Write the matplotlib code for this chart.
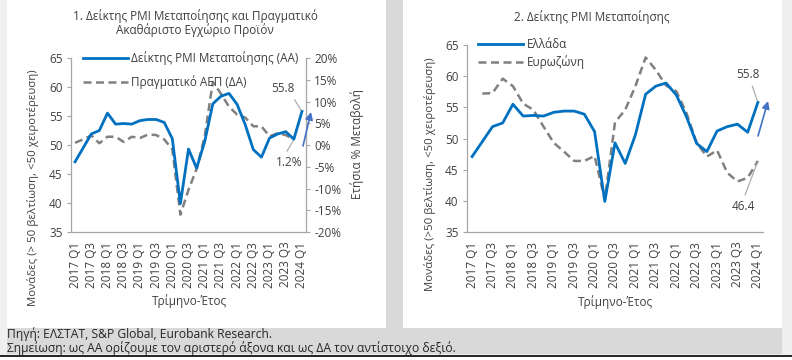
import matplotlib
matplotlib.use("Agg")
import matplotlib.pyplot as plt
import numpy as np
from matplotlib.patches import Rectangle
from matplotlib.lines import Line2D
from matplotlib.ticker import FuncFormatter, MultipleLocator

plt.rcParams['font.family'] = ['Open Sans', 'DejaVu Sans']
plt.rcParams['axes.unicode_minus'] = False

# ---------------- data ----------------
quarters = [f"{y} Q{q}" for y in range(2017, 2025) for q in range(1, 5)][:29]
tick_labels = quarters[::2]

pmi_greece = [47.1, 49.5, 51.9, 52.5, 55.5, 53.6, 53.7, 53.6, 54.2, 54.4, 54.4, 53.9,
              51.1, 39.9, 49.3, 46.0, 50.6, 57.1, 58.4, 58.9, 57.0, 53.5, 49.2, 47.9,
              51.2, 51.9, 52.3, 51.0, 55.8]
pmi_eurozone = [np.nan, 57.2, 57.3, 59.6, 58.4, 55.6, 54.6, 51.9, 49.3, 47.9, 46.4, 46.4,
                47.2, 40.2, 52.6, 54.6, 58.4, 63.0, 61.0, 58.5, 57.6, 54.1, 49.3, 47.1,
                48.1, 44.5, 43.1, 43.7, 46.4]
gdp_growth = [0.5, 1.3, 2.2, 0.4, 1.9, 1.9, 0.7, 1.9, 1.6, 2.4, 2.3, 1.3,
              -1.0, -16.0, -10.3, -5.5, 2.0, 14.5, 11.8, 8.8, 7.0, 6.3, 4.3, 4.3,
              2.0, 2.7, 2.3, 1.2, np.nan]

W, H = 792, 360
def fx(px): return px / W
def fy(py): return 1 - py / H

BLUE = '#0070C0'
GRAY = '#808080'
ARROW = '#4472C4'
TXT = '#404040'
SPINE = '#a6a6a6'
FS = 8.5
FSL = 8.2

fig = plt.figure(figsize=(W / 100, H / 100), dpi=100, facecolor='#efefef')

# background panels
def rect(x0, y0, x1, y1, color):
    fig.patches.append(Rectangle((fx(x0), fy(y1)), fx(x1) - fx(x0), fy(y0) - fy(y1),
                                 transform=fig.transFigure, facecolor=color,
                                 edgecolor='none', zorder=-10))
rect(7, 0, 386, 328, 'white')
rect(386, 0, 403, 328, '#d9d9d9')
rect(403, 0, 782, 328, 'white')
rect(7, 328, 782, 354, '#d9d9d9')
rect(0, 356, 792, 360, 'white')
fig.lines.append(Line2D([0, 1], [fy(355.5), fy(355.5)], transform=fig.transFigure,
                        color='black', lw=1.2))

x = np.arange(len(quarters))

def style_axes(ax):
    for s in ['top', 'right']:
        ax.spines[s].set_visible(False)
    for s in ['left', 'bottom']:
        ax.spines[s].set_color(SPINE)
        ax.spines[s].set_linewidth(0.9)
    ax.set_xlim(-0.5, len(quarters) - 0.5)
    ax.set_ylim(35, 65)
    ax.yaxis.set_major_locator(MultipleLocator(5))
    ax.set_xticks(x[::2])
    ax.set_xticklabels(tick_labels, rotation=90, fontsize=FS, color=TXT)
    ax.tick_params(axis='x', length=0, pad=7)
    ax.tick_params(axis='y', length=3, color=SPINE, labelsize=FS, labelcolor=TXT, pad=3)
    ax.set_facecolor('none')

# ---------------- left chart ----------------
ax1 = fig.add_axes([fx(71), fy(232), fx(306) - fx(71), fy(58) - fy(232)])
style_axes(ax1)
l1, = ax1.plot(x, pmi_greece, color=BLUE, lw=2.0, solid_joinstyle='round', zorder=3)
ax1b = ax1.twinx()
ax1b.set_ylim(-20, 20)
ax1b.yaxis.set_major_locator(MultipleLocator(5))
ax1b.yaxis.set_major_formatter(FuncFormatter(lambda v, p: f"{int(round(v))}%"))
for s in ['top', 'left', 'bottom']:
    ax1b.spines[s].set_visible(False)
ax1b.spines['right'].set_color(SPINE)
ax1b.spines['right'].set_linewidth(0.9)
ax1b.tick_params(axis='y', length=3, color=SPINE, labelsize=FS, labelcolor=TXT, pad=3)
l2, = ax1b.plot(x, gdp_growth, color=GRAY, lw=1.8, dashes=(3.2, 1.8), zorder=2)
ax1.set_zorder(ax1b.get_zorder() + 1)

fig.text(fx(195), fy(23), "1. Δείκτης PMI Μεταποίησης και Πραγματικό\nΑκαθάριστο Εγχώριο Προϊόν",
         ha='center', va='center', fontsize=FS, color=TXT, linespacing=1.05)
fig.text(fx(33), fy(188), "Μονάδες (> 50 βελτίωση, <50 χειροτέρευση)", rotation=90,
         ha='center', va='center', fontsize=FSL, color=TXT)
fig.text(fx(357), fy(144), "Ετήσια % Μεταβολή", rotation=90,
         ha='center', va='center', fontsize=FS, color=TXT)
fig.text(fx(189), fy(301), "Τρίμηνο-Έτος", ha='center', va='center', fontsize=FS, color=TXT)

leg1 = ax1.legend([l1, l2], ["Δείκτης PMI Μεταποίησης (ΑΑ)", "Πραγματικό ΑΕΠ (ΔΑ)"],
                  loc='upper left', bbox_to_anchor=(fx(83), fy(51)),
                  bbox_transform=fig.transFigure, frameon=False, fontsize=FS,
                  handlelength=3.8, handletextpad=0.3, labelspacing=0.85, borderpad=0,
                  borderaxespad=0)
for t in leg1.get_texts():
    t.set_color(TXT)

ax1.annotate(f"{pmi_greece[-1]:.1f}", xy=(x[-1], pmi_greece[-1]),
             xytext=(fx(283), fy(88)), textcoords='figure fraction',
             ha='center', va='center', fontsize=FS, color=TXT,
             arrowprops=dict(arrowstyle='-', color=SPINE, lw=0.8, shrinkA=2, shrinkB=1,
                             relpos=(0.85, 0)))
ax1b.annotate(f"{gdp_growth[-2]:.1f}%", xy=(x[-2], gdp_growth[-2]),
              xytext=(fx(289), fy(163)), textcoords='figure fraction',
              ha='center', va='center', fontsize=FS, color=TXT,
              arrowprops=dict(arrowstyle='-', color=SPINE, lw=0.8, shrinkA=2, shrinkB=1,
                              relpos=(0.3, 1)))
ax1.annotate("", xy=(fx(311), fy(112)), xytext=(fx(303), fy(146)),
             xycoords='figure fraction', textcoords='figure fraction',
             arrowprops=dict(arrowstyle='-|>', color=ARROW, lw=1.2, mutation_scale=11,
                             shrinkA=0, shrinkB=0))

# ---------------- right chart ----------------
ax2 = fig.add_axes([fx(467), fy(232), fx(763) - fx(467), fy(45) - fy(232)])
style_axes(ax2)
g1, = ax2.plot(x, pmi_greece, color=BLUE, lw=2.0, solid_joinstyle='round', zorder=3)
g2, = ax2.plot(x, pmi_eurozone, color=GRAY, lw=1.8, dashes=(3.2, 1.8), zorder=2)

fig.text(fx(592), fy(17), "2. Δείκτης PMI Μεταποίησης", ha='center', va='center',
         fontsize=FS, color=TXT)
fig.text(fx(430), fy(174), "Μονάδες (>50 βελτίωση, <50 χειροτέρευση)", rotation=90,
         ha='center', va='center', fontsize=FSL, color=TXT)
fig.text(fx(615), fy(302), "Τρίμηνο-Έτος", ha='center', va='center', fontsize=FS, color=TXT)

leg2 = ax2.legend([g1, g2], ["Ελλάδα", "Ευρωζώνη"],
                  loc='upper left', bbox_to_anchor=(fx(478), fy(38)),
                  bbox_transform=fig.transFigure, frameon=False, fontsize=FS,
                  handlelength=3.8, handletextpad=0.3, labelspacing=0.35, borderpad=0,
                  borderaxespad=0)
for t in leg2.get_texts():
    t.set_color(TXT)

ax2.annotate(f"{pmi_greece[-1]:.1f}", xy=(x[-1], pmi_greece[-1]),
             xytext=(fx(748), fy(74)), textcoords='figure fraction',
             ha='center', va='center', fontsize=FS, color=TXT,
             arrowprops=dict(arrowstyle='-', color=SPINE, lw=0.8, shrinkA=2, shrinkB=1,
                             relpos=(0.6, 0)))
ax2.annotate(f"{pmi_eurozone[-1]:.1f}", xy=(x[-1], pmi_eurozone[-1]),
             xytext=(fx(743), fy(207)), textcoords='figure fraction',
             ha='center', va='center', fontsize=FS, color=TXT,
             arrowprops=dict(arrowstyle='-', color=SPINE, lw=0.8, shrinkA=2, shrinkB=1,
                             relpos=(0.5, 1)))
ax2.annotate("", xy=(fx(768), fy(101)), xytext=(fx(758), fy(136)),
             xycoords='figure fraction', textcoords='figure fraction',
             arrowprops=dict(arrowstyle='-|>', color=ARROW, lw=1.2, mutation_scale=11,
                             shrinkA=0, shrinkB=0))

# ---------------- footer ----------------
fig.text(fx(7), fy(334), "Πηγή: ΕΛΣΤΑΤ, S&P Global, Eurobank Research.", ha='left',
         va='center', fontsize=8.7, color='#262626')
fig.text(fx(7), fy(348), "Σημείωση: ως ΑΑ ορίζουμε τον αριστερό άξονα και ως ΔΑ τον αντίστοιχο δεξιό.",
         ha='left', va='center', fontsize=8.7, color='#262626')

fig.savefig("out.png", dpi=100, facecolor=fig.get_facecolor())
